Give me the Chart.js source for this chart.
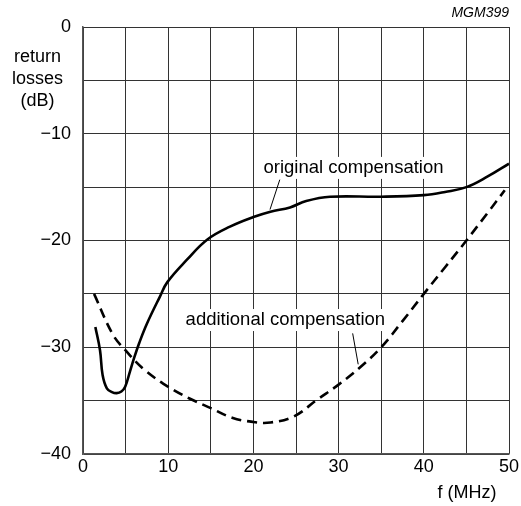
<!DOCTYPE html>
<html>
<head>
<meta charset="utf-8">
<script src="https://cdn.jsdelivr.net/npm/chart.js@4/dist/chart.umd.min.js"></script>
<style>
  html, body { margin: 0; padding: 0; background: #fff; }
  #wrap { width: 521px; height: 506px; position: relative; }
</style>
</head>
<body>
<div id="wrap"><canvas id="chart"></canvas></div>
<script>
// values: frequency (MHz) vs return losses (dB)
const freqOriginal = [1.45, 2.0, 2.3, 2.8, 3.4, 3.95, 4.5, 4.95, 5.5, 6.0, 6.6, 7.5, 9.0, 9.9, 12.2, 14.6, 17.25, 20.0, 22.0, 24.3, 26.2, 29.0, 35.0, 40.0, 42.5, 45.0, 47.5, 50.0];
const lossOriginal = [-28.1, -30.3, -32.6, -33.85, -34.2, -34.3, -34.15, -33.7, -32.3, -31.0, -29.6, -27.8, -25.3, -23.9, -21.8, -19.9, -18.7, -17.8, -17.3, -16.9, -16.3, -15.9, -15.9, -15.75, -15.45, -15.0, -14.0, -12.8];

const freqAdditional = [1.3, 3.5, 5.0, 7.2, 10.0, 12.5, 15.0, 17.5, 20.0, 22.0, 24.7, 27.5, 30.0, 32.5, 35.0, 37.5, 40.0, 42.5, 45.0, 47.5, 49.5];
const lossAdditional = [-25.0, -28.8, -30.3, -32.1, -33.7, -34.8, -35.7, -36.6, -37.0, -37.05, -36.5, -34.9, -33.5, -31.9, -30.0, -27.55, -25.0, -22.5, -20.0, -17.4, -15.3];

const xTickLabels = [0, 10, 20, 30, 40, 50];
const yTickLabels = [0, -10, -20, -30, -40];
const yTitle = ['return', 'losses', '(dB)'];
const xTitle = 'f (MHz)';
const figCode = 'MGM399';

// curve labels with leader lines, in data units
const curveLabels = [
    { text: 'original compensation', x: 31.75, y: -13.2, from: [23.1, -14.3], to: [21.95, -17.1] },
    { text: 'additional compensation', x: 23.75, y: -27.45, from: [31.65, -28.7], to: [32.3, -31.6] }
];

const FONT = '"Liberation Sans", Arial, sans-serif';

function xy(xs, ys) {
    return xs.map((x, i) => ({ x: x, y: ys[i] }));
}

function fmt(v) {
    return v < 0 ? '\u2212' + Math.abs(v) : String(v);
}

const textPlugin = {
    id: 'figText',
    beforeDatasetsDraw(chart) {
        const ctx = chart.ctx;
        const sx = chart.scales.x, sy = chart.scales.y;
        ctx.save();
        ctx.font = '18.5px ' + FONT;
        ctx.textAlign = 'center';
        ctx.textBaseline = 'middle';
        curveLabels.forEach(l => {
            const px = sx.getPixelForValue(l.x), py = sy.getPixelForValue(l.y);
            const w = ctx.measureText(l.text).width;
            ctx.fillStyle = '#fff';
            ctx.fillRect(px - w / 2 - 3, py - 11, w + 6, 22);
            ctx.fillStyle = '#000';
            ctx.fillText(l.text, px, py);
            ctx.beginPath();
            ctx.lineWidth = 1;
            ctx.strokeStyle = '#000';
            ctx.moveTo(sx.getPixelForValue(l.from[0]), sy.getPixelForValue(l.from[1]));
            ctx.lineTo(sx.getPixelForValue(l.to[0]), sy.getPixelForValue(l.to[1]));
            ctx.stroke();
        });
        ctx.restore();
    },
    afterDraw(chart) {
        const ctx = chart.ctx;
        ctx.save();
        ctx.fillStyle = '#000';
        ctx.textBaseline = 'middle';
        ctx.font = '18px ' + FONT;
        ctx.textAlign = 'center';
        yTitle.forEach((t, i) => ctx.fillText(t, 37.5, 57 + i * 22));
        ctx.fillText(xTitle, 467, 493);
        ctx.font = 'italic 14px ' + FONT;
        ctx.textAlign = 'right';
        ctx.fillText(figCode, 509, 13);
        ctx.restore();
    }
};

new Chart(document.getElementById('chart'), {
    type: 'line',
    data: {
        datasets: [{
            label: 'original compensation',
            data: xy(freqOriginal, lossOriginal),
            borderColor: '#000',
            borderWidth: 2.6,
            pointRadius: 0,
            tension: 0.4,
            fill: false
        }, {
            label: 'additional compensation',
            data: xy(freqAdditional, lossAdditional),
            borderColor: '#000',
            borderWidth: 2.6,
            borderDash: [10, 6],
            pointRadius: 0,
            tension: 0.4,
            fill: false
        }]
    },
    options: {
        responsive: true,
        maintainAspectRatio: false,
        animation: false,
        layout: { padding: { top: 27, right: 12, bottom: 0, left: 0 } },
        plugins: { legend: { display: false }, tooltip: { enabled: false } },
        scales: {
            x: {
                type: 'linear',
                min: 0,
                max: 50,
                ticks: {
                    stepSize: 5,
                    padding: 2,
                    maxRotation: 0,
                    autoSkip: false,
                    color: '#000',
                    font: { family: FONT, size: 18, lineHeight: 1.2 },
                    callback: v => xTickLabels.includes(v) ? fmt(v) : ''
                },
                grid: { color: '#333', lineWidth: 1, drawTicks: false },
                border: { color: '#555', width: 1.5 },
                afterFit: s => { s.height = 52; s.paddingLeft = 0; s.paddingRight = 0; }
            },
            y: {
                type: 'linear',
                min: -40,
                max: 0,
                ticks: {
                    stepSize: 5,
                    padding: 12,
                    autoSkip: false,
                    color: '#000',
                    font: { family: FONT, size: 18 },
                    callback: v => yTickLabels.includes(v) ? fmt(v) : ''
                },
                grid: { color: '#333', lineWidth: 1, drawTicks: false },
                border: { color: '#555', width: 1.5 },
                afterFit: s => { s.width = 83; s.paddingTop = 0; s.paddingBottom = 0; }
            }
        }
    },
    plugins: [textPlugin]
});
</script>
</body>
</html>
